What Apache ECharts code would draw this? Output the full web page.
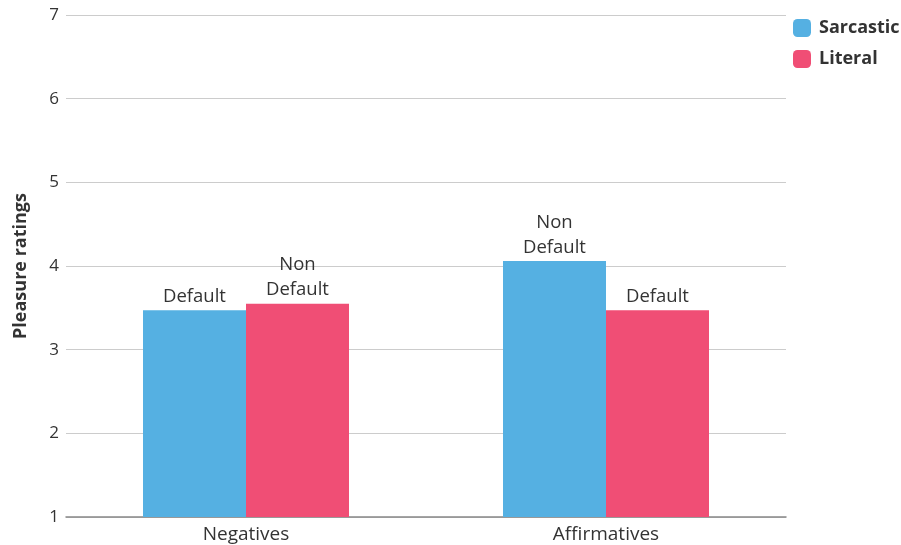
<!DOCTYPE html>
<html><head><meta charset="utf-8">
<script src="https://cdn.jsdelivr.net/npm/echarts@6/dist/echarts.min.js"></script>
<style>html,body{margin:0;padding:0;background:#fff}#c{width:901px;height:545px}</style>
</head><body><div id="c"></div>
<script>
const categories = ['Negatives', 'Affirmatives'];
const sarcastic = [3.47, 4.06];
const literal = [3.55, 3.47];
const sarcasticLabels = ['Default', 'Non\nDefault'];
const literalLabels = ['Non\nDefault', 'Default'];
const yTicks = [1, 2, 3, 4, 5, 6, 7];

const FONT = '"Open Sans", "DejaVu Sans", sans-serif';
const chart = echarts.init(document.getElementById('c'), null, {renderer: 'canvas'});
function lbl(labels) {
  return {
    show: true, position: 'top', distance: 1,
    color: '#333', fontSize: 18.5, fontFamily: FONT, lineHeight: 25,
    formatter: p => labels[p.dataIndex]
  };
}
chart.setOption({
  animation: false,
  grid: {left: 66, right: 115, top: 15, bottom: 28},
  legend: {
    orient: 'vertical', left: 793, top: 19, padding: 0, itemWidth: 18, itemHeight: 18,
    itemGap: 13, icon: 'roundRect',
    textStyle: {fontSize: 18, fontWeight: 'bold', color: '#333', fontFamily: FONT, padding: [0, 0, 0, 3]},
    data: ['Sarcastic', 'Literal']
  },
  xAxis: {
    type: 'category', data: categories,
    axisLine: {lineStyle: {color: '#888', width: 1.5}},
    axisTick: {show: false},
    axisLabel: {fontSize: 19, color: '#333', fontFamily: FONT, margin: 8}
  },
  yAxis: {
    type: 'value', min: yTicks[0], max: yTicks[yTicks.length - 1], interval: 1,
    name: 'Pleasure ratings', nameLocation: 'middle', nameGap: 36, nameRotate: 90,
    nameTextStyle: {fontSize: 18, fontWeight: 'bold', color: '#333', fontFamily: FONT},
    axisLine: {show: false}, axisTick: {show: false},
    axisLabel: {fontSize: 17, color: '#333', fontFamily: FONT, margin: 7},
    splitLine: {lineStyle: {color: '#cccccc', width: 1}}
  },
  series: [
    {name: 'Sarcastic', type: 'bar', data: sarcastic, barWidth: 103, barGap: '0%',
     itemStyle: {color: '#55b0e2'}, label: lbl(sarcasticLabels)},
    {name: 'Literal', type: 'bar', data: literal, barWidth: 103, barGap: '0%',
     itemStyle: {color: '#f04e75'}, label: lbl(literalLabels)}
  ]
});
</script></body></html>
